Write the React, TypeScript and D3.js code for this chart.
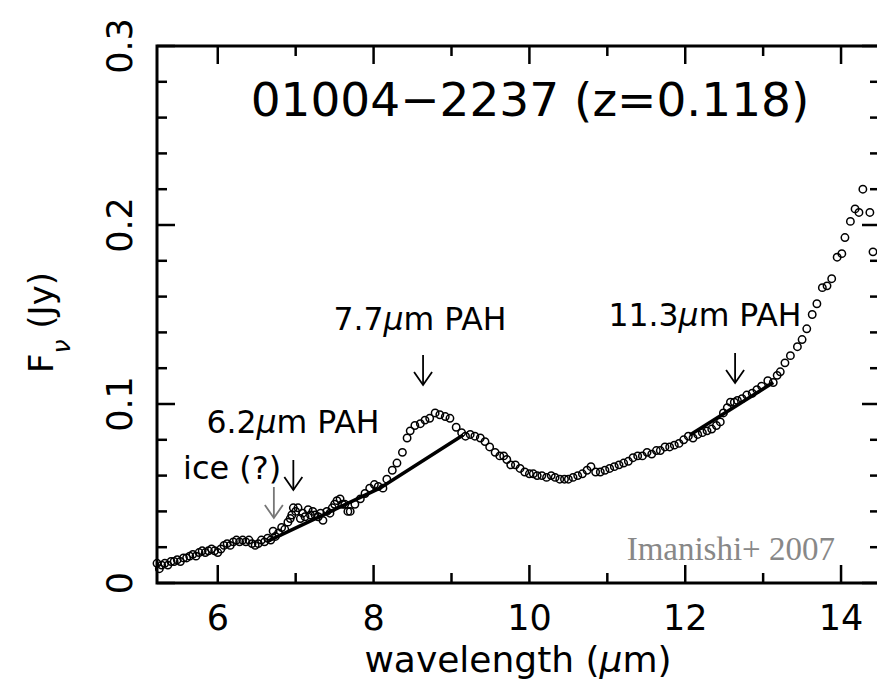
import React from "react";
import * as d3 from "d3";

// spectrum of 01004-2237
const wavelength = [
  5.22, 5.25, 5.28, 5.32, 5.36, 5.4, 5.44, 5.48, 5.52, 5.56, 5.6, 5.64, 5.68, 5.72, 5.76, 5.8,
  5.84, 5.88, 5.92, 5.96, 6.0, 6.04, 6.08, 6.12, 6.16, 6.2, 6.24, 6.28, 6.32, 6.36, 6.4, 6.44,
  6.48, 6.52, 6.56, 6.6, 6.64, 6.68, 6.71, 6.74, 6.78, 6.82, 6.86, 6.9, 6.93, 6.95, 6.97, 7.0,
  7.03, 7.06, 7.09, 7.12, 7.16, 7.19, 7.22, 7.25, 7.29, 7.32, 7.35, 7.4, 7.44, 7.47, 7.5, 7.53,
  7.57, 7.6, 7.63, 7.67, 7.7, 7.76, 7.83, 7.89, 7.95, 8.01, 8.06, 8.12, 8.17, 8.24, 8.3, 8.37,
  8.43, 8.47, 8.53, 8.6, 8.66, 8.72, 8.79, 8.85, 8.92, 8.98, 9.06, 9.13, 9.18, 9.24, 9.3, 9.37,
  9.43, 9.49, 9.56, 9.62, 9.67, 9.71, 9.76, 9.82, 9.88, 9.94, 10.0, 10.05, 10.1, 10.16, 10.22,
  10.28, 10.33, 10.39, 10.45, 10.5, 10.56, 10.62, 10.68, 10.74, 10.79, 10.85, 10.91, 10.97,
  11.03, 11.09, 11.15, 11.21, 11.27, 11.33, 11.39, 11.45, 11.51, 11.57, 11.63, 11.68, 11.74,
  11.8, 11.86, 11.92, 11.98, 12.04, 12.1, 12.16, 12.22, 12.28, 12.34, 12.4, 12.45, 12.49, 12.54,
  12.58, 12.63, 12.67, 12.73, 12.79, 12.86, 12.92, 12.98, 13.06, 13.13, 13.18, 13.22, 13.28,
  13.35, 13.44, 13.5, 13.56, 13.63, 13.69, 13.76, 13.82, 13.88, 13.95, 14.01, 14.05, 14.12,
  14.18, 14.23, 14.28, 14.37, 14.41,
];
const flux = [
  0.011, 0.008, 0.01, 0.011, 0.01, 0.012, 0.012, 0.013, 0.012, 0.014, 0.014, 0.015, 0.016, 0.015,
  0.017, 0.018, 0.017, 0.018, 0.019, 0.018, 0.017, 0.019, 0.021, 0.022, 0.021, 0.023, 0.024,
  0.023, 0.024, 0.023, 0.024, 0.022, 0.021, 0.022, 0.024, 0.023, 0.025, 0.024, 0.029, 0.026,
  0.028, 0.031, 0.03, 0.034, 0.036, 0.038, 0.042, 0.04, 0.042, 0.036, 0.039, 0.037, 0.041, 0.038,
  0.04, 0.038, 0.037, 0.039, 0.035, 0.04, 0.039, 0.042, 0.044, 0.046, 0.047, 0.044, 0.044, 0.04,
  0.04, 0.044, 0.047, 0.05, 0.053, 0.055, 0.054, 0.053, 0.058, 0.063, 0.067, 0.073, 0.081, 0.085,
  0.088, 0.089, 0.091, 0.092, 0.095, 0.094, 0.093, 0.092, 0.087, 0.084, 0.082, 0.083, 0.082,
  0.081, 0.079, 0.076, 0.073, 0.071, 0.071, 0.069, 0.066, 0.066, 0.064, 0.062, 0.061, 0.061, 0.06,
  0.06, 0.059, 0.06, 0.059, 0.058, 0.058, 0.058, 0.059, 0.06, 0.061, 0.063, 0.065, 0.062, 0.062,
  0.063, 0.064, 0.065, 0.066, 0.067, 0.068, 0.07, 0.071, 0.071, 0.073, 0.072, 0.074, 0.074, 0.076,
  0.076, 0.077, 0.078, 0.08, 0.082, 0.081, 0.083, 0.084, 0.085, 0.086, 0.088, 0.09, 0.095, 0.098,
  0.101, 0.101, 0.102, 0.103, 0.105, 0.106, 0.108, 0.11, 0.113, 0.112, 0.116, 0.118, 0.123, 0.127,
  0.132, 0.136, 0.142, 0.15, 0.156, 0.165, 0.166, 0.17, 0.182, 0.184, 0.193, 0.202, 0.209, 0.207,
  0.22, 0.207, 0.185,
];

// continuum lines under the PAH features
const contLow = [
  [6.65, 0.0235],
  [8.08, 0.053],
  [9.15, 0.0827],
];
const contHigh = [
  [12.06, 0.0827],
  [13.13, 0.112],
];

const xMajor = [6, 8, 10, 12, 14];
const xMinor = [7, 9, 11, 13];
const yMajor = [0, 0.1, 0.2, 0.3];
const yMinor = [0.02, 0.04, 0.06, 0.08, 0.12, 0.14, 0.16, 0.18, 0.22, 0.24, 0.26, 0.28];

// feature markers: wavelength of each arrow
const arrowAt = [6.72, 6.97, 8.635, 12.64];

const W = 877;
const H = 689;
const FONT = "DejaVu Sans";

export default function App() {
  const x = d3.scaleLinear().domain([5.22, 14.5]).range([157, 880]);
  const y = d3.scaleLinear().domain([0, 0.3]).range([583, 46]);
  const [x0, x1] = x.range();
  const [yb, yt] = y.range();

  const line = d3
    .line<number[]>()
    .x((d) => x(d[0]))
    .y((d) => y(d[1]));

  // arrow shaft top / bottom in px, plus colour
  const arrowStyle = [
    { top: 487, bot: 518, color: "#777" },
    { top: 460, bot: 490, color: "#000" },
    { top: 355, bot: 385, color: "#000" },
    { top: 353, bot: 383, color: "#000" },
  ];

  return (
    <div style={{ position: "absolute", left: 0, top: 0 }}>
      <svg width={W} height={H} style={{ display: "block", background: "#fff" }}>
        {/* frame */}
        <rect x={x0} y={yt} width={x1 - x0} height={yb - yt} fill="none" stroke="#000" strokeWidth={3} />

        {/* x ticks bottom + top */}
        {xMajor.map((t) => (
          <g key={"xM" + t}>
            <line x1={x(t)} x2={x(t)} y1={yb} y2={yb - 18} stroke="#000" strokeWidth={2.5} />
            <line x1={x(t)} x2={x(t)} y1={yt} y2={yt + 18} stroke="#000" strokeWidth={2.5} />
            <text x={x(t)} y={630} textAnchor="middle" fontFamily={FONT} fontSize={35}>
              {t}
            </text>
          </g>
        ))}
        {xMinor.map((t) => (
          <g key={"xm" + t}>
            <line x1={x(t)} x2={x(t)} y1={yb} y2={yb - 10} stroke="#000" strokeWidth={2.5} />
            <line x1={x(t)} x2={x(t)} y1={yt} y2={yt + 10} stroke="#000" strokeWidth={2.5} />
          </g>
        ))}

        {/* y ticks left + right */}
        {yMajor.map((t) => (
          <g key={"yM" + t}>
            <line x1={x0} x2={x0 + 18} y1={y(t)} y2={y(t)} stroke="#000" strokeWidth={2.5} />
            <line x1={x1} x2={x1 - 18} y1={y(t)} y2={y(t)} stroke="#000" strokeWidth={2.5} />
            <text
              transform={`translate(132,${y(t)}) rotate(-90)`}
              textAnchor="middle"
              fontFamily={FONT}
              fontSize={35}
            >
              {t === 0 ? "0" : t.toFixed(1)}
            </text>
          </g>
        ))}
        {yMinor.map((t) => (
          <g key={"ym" + t}>
            <line x1={x0} x2={x0 + 10} y1={y(t)} y2={y(t)} stroke="#000" strokeWidth={2.5} />
            <line x1={x1} x2={x1 - 10} y1={y(t)} y2={y(t)} stroke="#000" strokeWidth={2.5} />
          </g>
        ))}

        {/* axis titles */}
        <text x={518} y={672} textAnchor="middle" fontFamily={FONT} fontSize={36}>
          wavelength (<tspan fontStyle="italic">μ</tspan>m)
        </text>
        <text transform="translate(53,373) rotate(-90)" fontFamily={FONT} fontSize={34}>
          F
          <tspan fontSize={25} dy={17} fontStyle="italic">
            ν
          </tspan>
          <tspan dy={-17}> (Jy)</tspan>
        </text>

        {/* title */}
        <text x={530} y={116} textAnchor="middle" fontFamily={FONT} fontSize={47}>
          01004−2237 (z=0.118)
        </text>

        {/* continuum */}
        <path d={line(contLow) || ""} fill="none" stroke="#000" strokeWidth={3.5} />
        <path d={line(contHigh) || ""} fill="none" stroke="#000" strokeWidth={3.5} />

        {/* data */}
        <g fill="none" stroke="#000" strokeWidth={1.5}>
          {wavelength.map((w, i) => (
            <circle key={i} cx={x(w)} cy={y(flux[i])} r={3.7} />
          ))}
        </g>

        {/* arrows */}
        {arrowAt.map((w, i) => {
          const a = arrowStyle[i];
          const ax = x(w);
          return (
            <g key={"ar" + i} stroke={a.color} strokeWidth={1.8} fill="none">
              <line x1={ax} x2={ax} y1={a.top} y2={a.bot} />
              <polyline points={`${ax - 9},${a.bot - 13} ${ax},${a.bot} ${ax + 9},${a.bot - 13}`} />
            </g>
          );
        })}

        {/* labels */}
        <g fontFamily={FONT} fontSize={31.5}>
          <text x={420} y={330} textAnchor="middle">
            7.7<tspan fontStyle="italic">μ</tspan>m PAH
          </text>
          <text x={705} y={326} textAnchor="middle">
            11.3<tspan fontStyle="italic">μ</tspan>m PAH
          </text>
          <text x={293} y={433} textAnchor="middle">
            6.2<tspan fontStyle="italic">μ</tspan>m PAH
          </text>
          <text x={183} y={479} fontSize={32}>
            ice (?)
          </text>
        </g>
        <text x={835} y={560} textAnchor="end" fontFamily="Liberation Serif" fontSize={33} fill="#888">
          Imanishi+ 2007
        </text>
      </svg>
    </div>
  );
}
